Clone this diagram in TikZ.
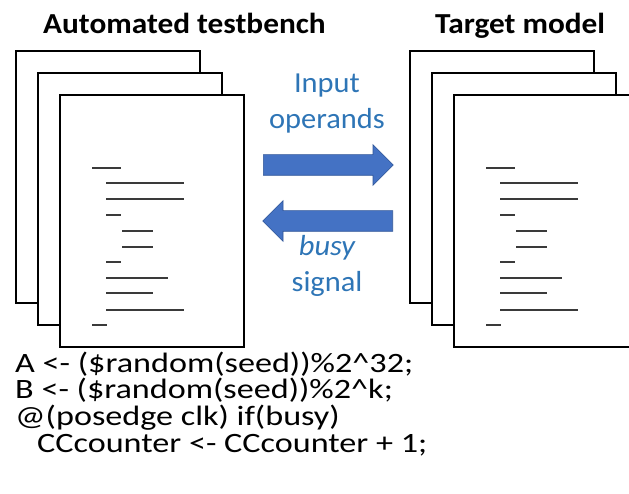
\documentclass[tikz,border=0pt]{standalone}
\usepackage{fontspec}
\setmainfont{Carlito}
\newfontfamily\titlefont[FakeStretch=1.08]{Carlito}
\newfontfamily\labelfont[FakeStretch=1.05]{Carlito}
\newfontfamily\codefont[FakeStretch=1.22]{Carlito}
\usetikzlibrary{positioning,shapes.arrows}

\definecolor{arrowblue}{HTML}{4472C4}
\definecolor{arrowedge}{HTML}{2F5597}
\definecolor{textblue}{HTML}{2E75B6}
\definecolor{linegray}{HTML}{3A3A3A}

\tikzset{
  page/.style={draw, line width=2.4pt, fill=white, minimum width=184pt,
    minimum height=252pt, inner sep=0pt},
  codeline/.style={linegray, line width=1.3pt},
  bigarrow/.style={single arrow, draw=arrowedge, fill=arrowblue, line width=0.6pt,
    minimum width=40pt, minimum height=130pt, single arrow head extend=10pt,
    single arrow head indent=0pt, inner sep=10pt},
  title/.style={font=\titlefont\fontsize{29}{34}\selectfont\bfseries, inner sep=0pt,
    anchor=base west},
  label/.style={textblue, font=\labelfont\fontsize{29}{36}\selectfont, inner sep=0pt,
    align=center, anchor=north},
  code/.style={font=\codefont\fontsize{28}{32}\selectfont, inner sep=0pt, anchor=base west}
}

% short lines drawn on the front page of a stack
\newcommand{\pagelines}[1]{%
  \foreach \dx/\len/\dy in {33/29/74, 47/78/89, 47/78/105, 47/15/121, 63/31/137,
      63/31/153, 47/15/168, 47/62/184, 47/47/199, 47/78/216, 33/15/231}
    \draw[codeline] ([shift={(\dx,\dy)}]#1.north west) -- ++(\len,0);
}

\begin{document}
\begin{tikzpicture}[x=1pt,y=-1pt]
\useasboundingbox (0,0) rectangle (629,494);
\clip (0,0) rectangle (629,494);

% testbench stack
\node[title] (tbtitle) at (43,34) {Automated testbench};
\node[page, anchor=north west] (tbA) at (15,50) {};
\node[page, below right=22pt and 22pt of tbA.north west] (tbB) {};
\node[page, below right=22pt and 22pt of tbB.north west] (tbC) {};
\pagelines{tbC}

% target model stack
\node[title] (tmtitle) at (435,34) {Target model};
\node[page, anchor=north west] (tmA) at (409,50) {};
\node[page, below right=22pt and 22pt of tmA.north west] (tmB) {};
\node[page, below right=22pt and 22pt of tmB.north west] (tmC) {};
\pagelines{tmC}

% arrows in between
\node[label] (opText) at (327,74) {Input\\operands};
\node[bigarrow, anchor=tail] (opArrow) at (263,165) {};
\node[bigarrow, shape border rotate=180, anchor=tail] (busyArrow) at (393,221) {};
\node[label] (busyText) at (327,235) {\itshape busy\\signal};

% stimulus code
\node[code] (code1) at (15,372) {A <- (\$random(seed))\%2\textasciicircum32;};
\node[code] (code2) at (15,398) {B <- (\$random(seed))\%2\textasciicircum k;};
\node[code] (code3) at (15,425) {@(posedge clk) if(busy)};
\node[code] (code4) at (37,452) {CCcounter <- CCcounter + 1;};
\end{tikzpicture}
\end{document}
